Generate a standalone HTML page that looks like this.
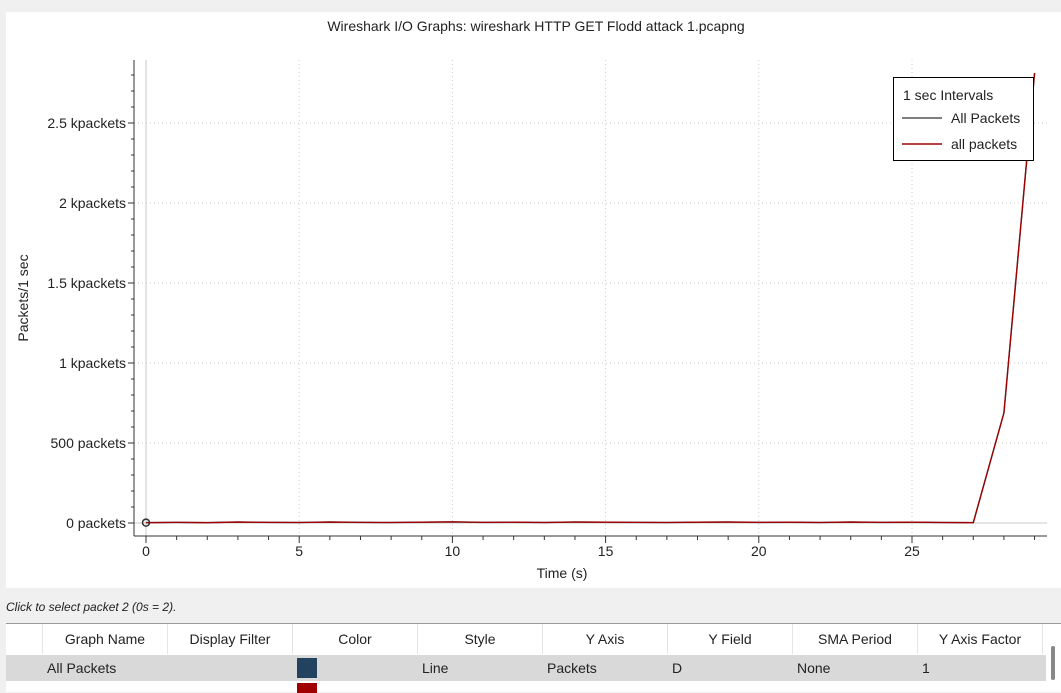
<!DOCTYPE html>
<html><head><meta charset="utf-8"><style>
body{margin:0;width:1061px;height:691px;background:#f0f0f0;font-family:"Segoe UI","Liberation Sans",sans-serif;overflow:hidden;position:relative}
#chartbox{position:absolute;left:6px;top:12px;width:1055px;height:576px;background:#fff}
.st{position:absolute;left:6px;top:600px;font-size:12px;font-style:italic;color:#222}
#tbl{position:absolute;left:6px;top:623px;width:1055px;height:68px;background:#fff;border-top:1px solid #999}
.hd{position:absolute;top:0;height:30px;line-height:30px;text-align:center;font-size:14px;color:#222;border-right:1px solid #e4e4e4}
.row{position:absolute;left:0;top:31px;width:1040px;height:26px;background:#d9d9d9}
.c{position:absolute;font-size:14px;line-height:26px;color:#222}
</style></head><body>
<div id="chartbox"></div>
<svg id="chart" width="1061" height="590" style="position:absolute;left:0;top:0"></svg>
<div class="st">Click to select packet 2 (0s = 2).</div>
<div id="tbl">
<div class="hd" style="left:0;width:36px"></div>
<div class="hd" style="left:37px;width:124px">Graph Name</div>
<div class="hd" style="left:162px;width:124px">Display Filter</div>
<div class="hd" style="left:287px;width:124px">Color</div>
<div class="hd" style="left:412px;width:124px">Style</div>
<div class="hd" style="left:537px;width:124px">Y Axis</div>
<div class="hd" style="left:662px;width:124px">Y Field</div>
<div class="hd" style="left:787px;width:124px">SMA Period</div>
<div class="hd" style="left:912px;width:124px">Y Axis Factor</div>
<div class="row">
<span class="c" style="left:41px">All Packets</span>
<span style="position:absolute;left:291px;top:3px;width:20px;height:20px;background:#22425f"></span>
<span class="c" style="left:416px">Line</span><span class="c" style="left:541px">Packets</span>
<span class="c" style="left:666px">D</span><span class="c" style="left:791px">None</span><span class="c" style="left:916px">1</span>
</div>
<span style="position:absolute;left:291px;top:59px;width:20px;height:10px;background:#a00000"></span>
<div style="position:absolute;left:1045px;top:22px;width:4px;height:34px;background:#888;border-radius:2px"></div>
</div>
<script>
const times=[0,1,2,3,4,5,6,7,8,9,10,11,12,13,14,15,16,17,18,19,20,21,22,23,24,25,26,27,28,29];
const allPackets=[2,4,2,6,4,3,6,4,3,5,7,4,5,3,6,5,4,3,5,6,4,5,3,6,4,5,3,2,688,2812];
const allPackets2=[2,4,2,6,4,3,6,4,3,5,7,4,5,3,6,5,4,3,5,6,4,5,3,6,4,5,3,2,688,2812];
const xTicks=[0,5,10,15,20,25];
const yTicks=[0,500,1000,1500,2000,2500];
const yLabels=["0 packets","500 packets","1 kpackets","1.5 kpackets","2 kpackets","2.5 kpackets"];
const svg=document.getElementById('chart'),NS='http://www.w3.org/2000/svg';
const X=v=>146+v*30.64, Y=v=>523-v*0.16;
function mk(t,a,p){const e=document.createElementNS(NS,t);for(const k in a)e.setAttribute(k,a[k]);(p||svg).appendChild(e);return e;}
let e;
e=mk('text',{x:536,y:31,'text-anchor':'middle','font-size':14,fill:'#222'});e.textContent='Wireshark I/O Graphs: wireshark HTTP GET Flodd attack 1.pcapng';


xTicks.forEach(v=>{e=mk('line',{x1:X(v),x2:X(v),y1:60,y2:536,stroke:'#ccc','stroke-dasharray':'1,3'});


e=mk('text',{x:X(v),y:556,'text-anchor':'middle','font-size':14,fill:'#222'});e.textContent=v;

});
for(let v=0;v<=29;v++){mk('line',{x1:X(v),x2:X(v),y1:536,y2:v%5?540:543,stroke:'#333'});}
yTicks.forEach((v,i)=>{if(v>0){e=mk('line',{x1:134,x2:1047,y1:Y(v),y2:Y(v),stroke:'#ccc','stroke-dasharray':'1,3'});

}
mk('line',{x1:128,x2:134,y1:Y(v),y2:Y(v),stroke:'#333'});
e=mk('text',{x:126,y:Y(v)+5,'text-anchor':'end','font-size':14,fill:'#222'});e.textContent=yLabels[i];

});
for(let v=100;v<2900;v+=100){if(v%500)mk('line',{x1:131,x2:134,y1:Y(v),y2:Y(v),stroke:'#333'});}
mk('line',{x1:134,x2:1047,y1:Y(0),y2:Y(0),stroke:'#c8c8c8'});
mk('line',{x1:146,x2:146,y1:60,y2:536,stroke:'#c8c8c8'});
mk('line',{x1:134,x2:134,y1:60,y2:536,stroke:'#333'});
mk('line',{x1:134,x2:1047,y1:536,y2:536,stroke:'#333'});
e=mk('text',{x:562,y:578,'text-anchor':'middle','font-size':14,fill:'#222'});e.textContent='Time (s)';


e=mk('text',{x:28,y:298,'text-anchor':'middle','font-size':14,fill:'#222',transform:'rotate(-90 28 298)'});e.textContent='Packets/1 sec';


e=mk('polyline',{points:times.map((t,i)=>X(t)+','+Y(allPackets[i])).join(' '),fill:'none',stroke:'#555','stroke-width':1.5});


e=mk('polyline',{points:times.map((t,i)=>X(t)+','+Y(allPackets2[i])).join(' '),fill:'none',stroke:'#a00000','stroke-width':1.3});


e=mk('circle',{cx:X(0),cy:Y(allPackets[0]),r:3.5,fill:'none',stroke:'#333','stroke-width':1.5});


const lg=mk('g',{});


mk('rect',{x:893.5,y:77.5,width:140,height:83,fill:'#fff',stroke:'#000'},lg);
e=mk('text',{x:903,y:100,'font-size':14,fill:'#222'},lg);e.textContent='1 sec Intervals';
mk('line',{x1:902,x2:942,y1:118,y2:118,stroke:'#555','stroke-width':1.5},lg);
e=mk('text',{x:951,y:123,'font-size':14,fill:'#222'},lg);e.textContent='All Packets';


mk('line',{x1:902,x2:942,y1:144,y2:144,stroke:'#a00000','stroke-width':1.5},lg);
e=mk('text',{x:951,y:149,'font-size':14,fill:'#222'},lg);e.textContent='all packets';


</script>
</body></html>
